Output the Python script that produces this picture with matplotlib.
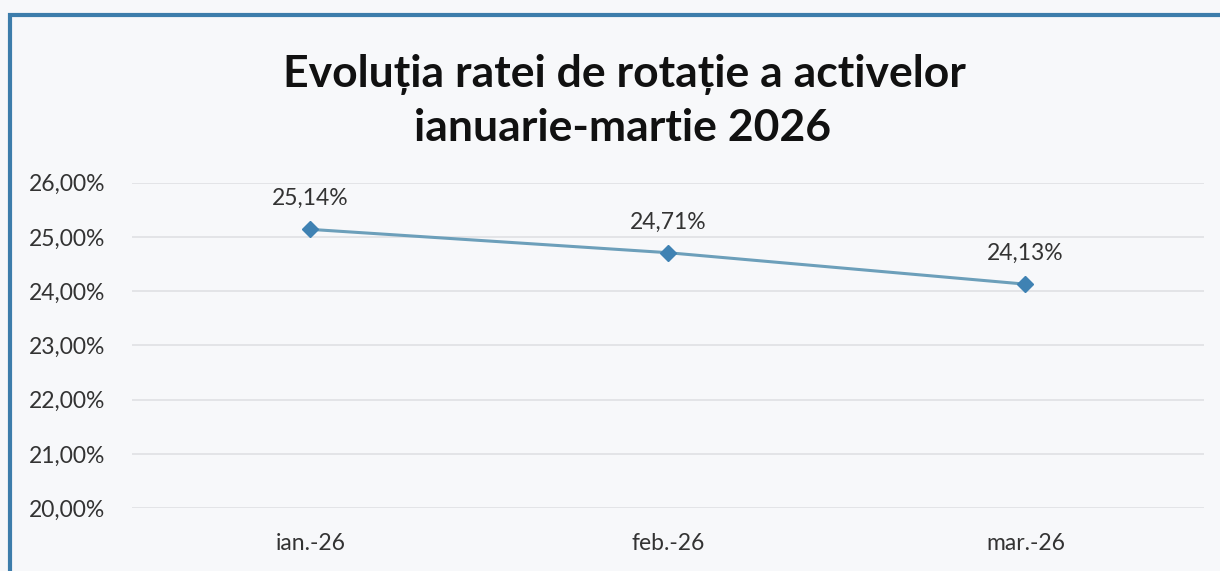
import matplotlib
matplotlib.use("Agg")
import matplotlib.pyplot as plt
from matplotlib.patches import Rectangle

categories = ["ian.-26", "feb.-26", "mar.-26"]
values = [25.14, 24.71, 24.13]
value_labels = ["25,14%", "24,71%", "24,13%"]
yticks = [20, 21, 22, 23, 24, 25, 26]
ytick_labels = ["20,00%", "21,00%", "22,00%", "23,00%", "24,00%", "25,00%", "26,00%"]
title_lines = ["Evoluția ratei de rotație a activelor", "ianuarie-martie 2026"]

plt.rcParams['font.family'] = ['Lato', 'DejaVu Sans']

fig = plt.figure(figsize=(12.2, 5.71), dpi=100)
fig.patch.set_facecolor("#f7f8fa")

ax = fig.add_axes([0.108, 0.110, 0.879, 0.570])
ax.set_facecolor("#f7f8fa")

x = list(range(len(categories)))
ax.plot(x, values, color="#6c9fba", lw=2.2, marker="D", ms=8,
        mfc="#3f82b3", mec="#3f82b3", zorder=3)
for xi, v, lab in zip(x, values, value_labels):
    ax.annotate(lab, (xi, v), xytext=(0, 22), textcoords="offset points",
                ha="center", va="center", fontsize=16.5, color="#333333")

ax.set_xlim(-0.5, len(categories) - 0.5)
ax.set_ylim(20, 26)
ax.set_yticks(yticks)
ax.set_yticklabels(ytick_labels)
ax.set_xticks(x)
ax.set_xticklabels(categories)
ax.tick_params(axis="y", length=0, pad=19, labelsize=16.5, labelcolor="#333333")
ax.tick_params(axis="x", length=0, pad=18, labelsize=16.5, labelcolor="#333333")
ax.grid(axis="y", color="#e0e1e4", lw=1.2)
ax.set_axisbelow(True)
for s in ax.spines.values():
    s.set_visible(False)

fig.text(0.512, 0.869, title_lines[0], ha="center", va="center",
         fontsize=32, fontweight="bold", color="#111111")
fig.text(0.510, 0.776, title_lines[1], ha="center", va="center",
         fontsize=32, fontweight="bold", color="#111111")

border = Rectangle((10 / 1220, -0.1), 1.2, 1 - 15 / 571 + 0.1,
                   transform=fig.transFigure, fill=False,
                   edgecolor="#3d7dab", lw=3.0, zorder=10)
fig.patches.append(border)

fig.savefig("out.png", dpi=100, facecolor=fig.get_facecolor())
